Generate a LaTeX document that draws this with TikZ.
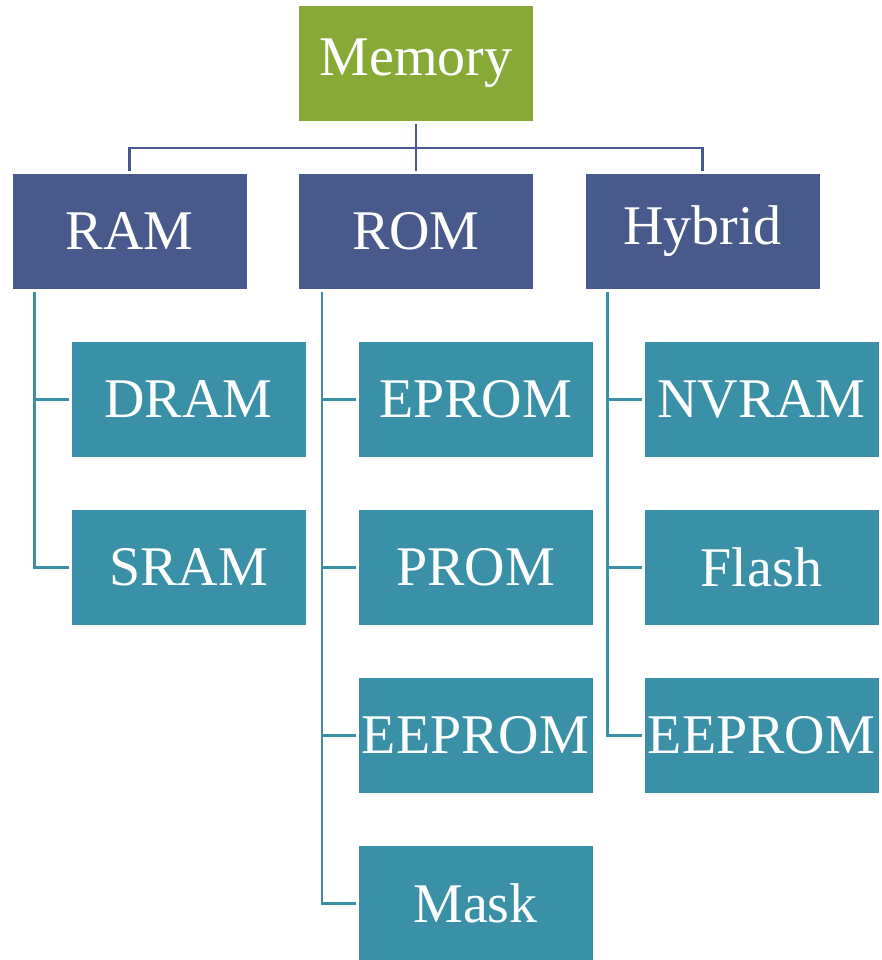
\documentclass[tikz,border=0pt]{standalone}
\usepackage{fontspec}
\setmainfont{Liberation Serif}
\definecolor{memgreen}{HTML}{86AA35}
\definecolor{catblue}{HTML}{485A8C}
\definecolor{subteal}{HTML}{3A91A7}
\begin{document}
\begin{tikzpicture}[x=1pt,y=-1pt,
  box/.style={minimum width=234pt,minimum height=115pt,inner sep=0pt,text=white,
    font=\fontsize{56}{60}\selectfont},
  topbox/.style={box,fill=memgreen},
  catbox/.style={box,fill=catblue},
  subbox/.style={box,fill=subteal},
  l1/.style={draw=catblue,line width=2.2pt},
  l2/.style={draw=subteal,line width=2.4pt}]
\useasboundingbox (0,0) rectangle (881,960);
\node[topbox] (mem) at (416,63.5) {Memory};
\node[catbox] (ram) at (129.5,231.5) {RAM};
\node[catbox] (rom) at (416,231.5) {ROM};
\node[catbox] (hyb) at (702.5,231.5) {Hybrid};
\node[subbox] (dram) at (188.5,399.5) {DRAM};
\node[subbox] (sram) at (188.5,567.5) {SRAM};
\node[subbox] (eprom) at (475.5,399.5) {EPROM};
\node[subbox] (prom) at (475.5,567.5) {PROM};
\node[subbox] (eeprom) at (475.5,735.5) {EEPROM};
\node[subbox] (mask) at (475.5,903.5) {Mask};
\node[subbox] (nvram) at (761.5,399.5) {NVRAM};
\node[subbox] (flash) at (761.5,567.5) {Flash};
\node[subbox] (eeprom2) at (761.5,735.5) {EEPROM};
\coordinate (bus) at (416,148);
\draw[l1] ([yshift=-3pt]mem.south) -- (bus);
\draw[l1] (bus) -| ([yshift=3pt]ram.north);
\draw[l1] (bus) -| ([yshift=3pt]hyb.north);
\draw[l1] (bus) -- ([yshift=3pt]rom.north);
\draw[l2] ([xshift=22pt,yshift=-3pt]ram.south west) |- ([xshift=-2pt]dram.west);
\draw[l2] ([xshift=22pt,yshift=-3pt]ram.south west) |- ([xshift=-2pt]sram.west);
\draw[l2] ([xshift=23pt,yshift=-3pt]rom.south west) |- ([xshift=-2pt]eprom.west);
\draw[l2] ([xshift=23pt,yshift=-3pt]rom.south west) |- ([xshift=-2pt]prom.west);
\draw[l2] ([xshift=23pt,yshift=-3pt]rom.south west) |- ([xshift=-2pt]eeprom.west);
\draw[l2] ([xshift=23pt,yshift=-3pt]rom.south west) |- ([xshift=-2pt]mask.west);
\draw[l2] ([xshift=22pt,yshift=-3pt]hyb.south west) |- ([xshift=-2pt]nvram.west);
\draw[l2] ([xshift=22pt,yshift=-3pt]hyb.south west) |- ([xshift=-2pt]flash.west);
\draw[l2] ([xshift=22pt,yshift=-3pt]hyb.south west) |- ([xshift=-2pt]eeprom2.west);
\end{tikzpicture}
\end{document}
